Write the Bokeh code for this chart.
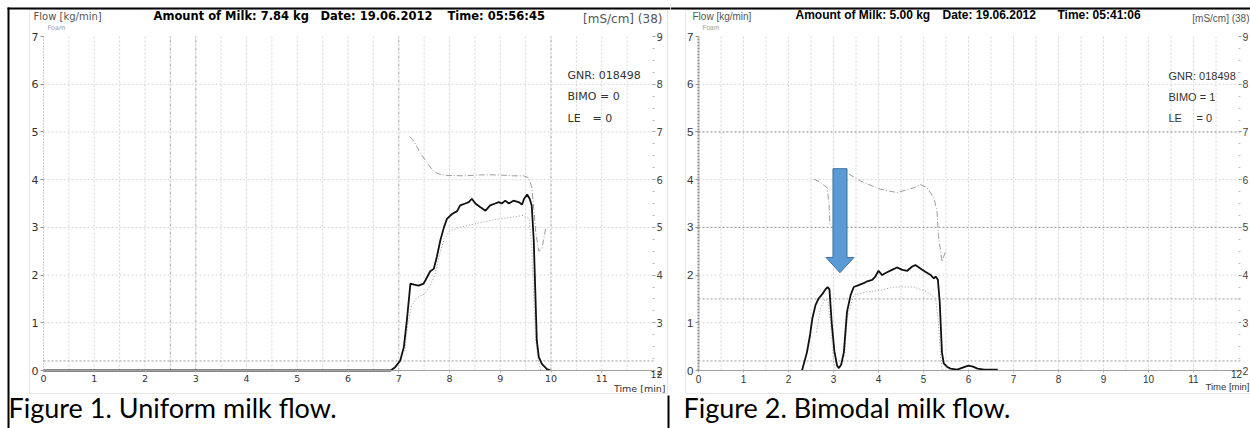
from bokeh.plotting import figure
from bokeh.models import Range1d, LinearAxis, FixedTicker, Label, BoxAnnotation
from bokeh.layouts import row
from bokeh.embed import file_html
from bokeh.resources import INLINE

NAN = float("nan")

# ---------------- shared axes / grid values ----------------
X_TICKS = list(range(12))
X_HALF_GRID = [i * 0.5 for i in range(1, 24)]
FLOW_TICKS = list(range(8))
FLOW_FAINT_GRID = [1, 2, 3, 4, 5, 6]
COND_TICKS = list(range(2, 10))
COND_MINOR = [2 + i * 0.25 for i in range(29) if i % 4]
T_MAX = 12
FLOW_MAX = 7
COND_OFFSET = 2

# ---------------- Figure 1: uniform milk flow ----------------
F1_T = [0.0, 6.84, 6.93, 7.03, 7.10, 7.16, 7.23, 7.30, 7.39, 7.49, 7.56, 7.62, 7.69, 7.75,
        7.82, 7.89, 7.95, 8.05, 8.15, 8.21, 8.31, 8.38, 8.44, 8.51, 8.61, 8.71, 8.80, 8.90,
        8.97, 9.03, 9.10, 9.17, 9.26, 9.36, 9.43, 9.47, 9.53, 9.58, 9.62, 9.66, 9.69, 9.72,
        9.76, 9.82, 9.92, 9.99]
F1_FLOW = [0.0, 0.0, 0.07, 0.21, 0.49, 1.05, 1.82, 1.80, 1.78, 1.82, 1.96, 2.08, 2.13, 2.38,
           2.73, 3.00, 3.18, 3.28, 3.34, 3.46, 3.50, 3.53, 3.60, 3.50, 3.42, 3.35, 3.46, 3.50,
           3.53, 3.50, 3.56, 3.50, 3.56, 3.53, 3.48, 3.60, 3.69, 3.60, 3.46, 2.73, 1.68, 0.63,
           0.28, 0.14, 0.03, 0.0]
F1_LOW_T = [7.12, 7.18, 7.25, 7.35, 7.50, 7.62, 7.72, 7.82, 7.90, 8.00, 8.20, 8.60, 8.95,
            9.15, 9.45, 9.57, 9.62, 9.66, 9.70, 9.75, 9.80]
F1_LOW = [0.40, 1.00, 1.35, 1.52, 1.60, 1.78, 2.03, 2.50, 2.76, 2.92, 3.00, 3.10, 3.17,
          3.20, 3.25, 3.18, 2.60, 1.50, 0.60, 0.20, 0.00]
F1_COND_T = [7.22, 7.30, 7.43, 7.56, 7.69, 7.79, 7.95, 8.28, 8.61, 8.94, 9.26, 9.46, 9.56,
             9.62, 9.66, 9.70, 9.76, 9.82, 9.90]
F1_COND = [6.90, 6.80, 6.55, 6.35, 6.17, 6.12, 6.09, 6.08, 6.10, 6.10, 6.08, 6.08, 6.04,
           5.85, 5.40, 4.90, 4.50, 4.55, 5.00]
F1_DARK_VGRID = [2.5, 3, 7, 10]
F1_DARK_HGRID = [0.2]
F1_TITLE = ["Amount of Milk: 7.84 kg", "Date: 19.06.2012", "Time: 05:56:45"]
F1_INFO = ["GNR: 018498", "BIMO = 0", "LE", "= 0"]
F1_CAPTION = "Figure 1. Uniform milk flow."

# ---------------- Figure 2: bimodal milk flow ----------------
F2_T = [2.30, 2.41, 2.48, 2.53, 2.60, 2.67, 2.75, 2.82, 2.87, 2.91, 2.96, 3.02, 3.08, 3.12,
        3.17, 3.23, 3.30, 3.38, 3.45, 3.56, 3.67, 3.75, 3.86, 3.93, 4.00, 4.08, 4.19, 4.30,
        4.41, 4.53, 4.64, 4.75, 4.82, 4.93, 5.04, 5.16, 5.23, 5.27, 5.32, 5.36, 5.41, 5.45,
        5.52, 5.60, 5.75, 5.90, 6.00, 6.10, 6.20, 6.35, 6.65]
F2_FLOW = [0.00, 0.38, 0.75, 1.09, 1.37, 1.51, 1.60, 1.70, 1.75, 1.70, 1.00, 0.40, 0.10, 0.05,
           0.12, 0.38, 1.23, 1.58, 1.75, 1.79, 1.83, 1.87, 1.90, 1.97, 2.09, 2.00, 2.06, 2.11,
           2.16, 2.11, 2.09, 2.18, 2.21, 2.14, 2.07, 2.00, 1.93, 1.97, 1.90, 1.44, 0.38, 0.15,
           0.08, 0.04, 0.02, 0.07, 0.10, 0.08, 0.04, 0.02, 0.02]
F2_LOW_T = [2.62, 2.71, 2.82, 2.88, 2.95, 3.00, 3.05, 3.15, 3.25, 3.30, 3.45, 3.75, 4.04,
            4.34, 4.79, 5.08, 5.27, 5.33, 5.38, 5.42]
F2_LOW = [0.80, 1.30, 1.50, 1.45, 0.80, 0.20, 0.00, NAN, 0.30, 1.09, 1.58, 1.65, 1.68,
          1.75, 1.75, 1.65, 1.51, 1.00, 0.30, 0.00]
F2_COND_T = [2.56, 2.70, 2.86, 2.90, 2.92, 2.93, 3.34, 3.60, 4.04, 4.41, 4.79, 4.93, 5.08,
             5.23, 5.30, 5.33, 5.41, 5.49]
F2_COND = [6.01, 5.95, 5.83, 5.50, 5.06, NAN, 6.12, 5.97, 5.80, 5.73, 5.83, 5.90, 5.83,
           5.62, 5.34, 4.85, 4.28, 4.50]
F2_DARK_HGRID = [0.2, 1.5, 3, 5]
F2_TITLE = ["Amount of Milk: 5.00 kg", "Date: 19.06.2012", "Time: 05:41:06"]
F2_INFO = ["GNR: 018498", "BIMO = 1", "LE", "= 0"]
F2_CAPTION = "Figure 2. Bimodal milk flow."

# block arrow annotation (data units of figure 2)
ARROW_T = 3.144
ARROW_SHAFT_HALF = 0.156
ARROW_HEAD_HALF = 0.311
ARROW_TOP = 4.23
ARROW_NECK = 2.37
ARROW_TIP = 2.05

# ---------------- page geometry (pixels) ----------------
H = 428
W1, W2 = 670, 580
ZERO_Y = 370          # pixel row of flow = 0
PX_PER_FLOW = 47.71   # pixels per kg/min
CAP_FONT = "Lato"


def label(p, x, y, text, font, size, color="#333333", align="left",
          baseline="middle", style="normal"):
    p.add_layout(Label(x=x, y=y, x_units="canvas", y_units="canvas", text=text,
                       text_font=font, text_font_size=f"{size}px", text_color=color,
                       text_align=align, text_baseline=baseline, text_font_style=style))


def box(p, l, r, t, b, fill=None, line=None):
    p.add_layout(BoxAnnotation(left=l, right=r, top=t, bottom=b,
                               left_units="canvas", right_units="canvas",
                               bottom_units="canvas", top_units="canvas",
                               fill_color=fill, fill_alpha=1.0 if fill else 0.0,
                               line_color=line, line_width=1, level="overlay"))


def base(width, x0_px, px_per_min, font, size, yaxis_color, yaxis_dash, yaxis_width,
         dark_h, dark_v):
    x_start = -x0_px / px_per_min
    x_end = (width - x0_px) / px_per_min
    y_start = -(H - ZERO_Y) / PX_PER_FLOW
    y_end = ZERO_Y / PX_PER_FLOW
    p = figure(width=width, height=H, x_range=Range1d(x_start, x_end),
               y_range=Range1d(y_start, y_end), output_backend="svg",
               toolbar_location=None, min_border=0)
    p.outline_line_color = None
    p.background_fill_color = "white"
    p.border_fill_color = "white"
    p.xgrid.visible = False
    p.ygrid.visible = False
    p.extra_y_ranges = {"cond": Range1d(y_start + COND_OFFSET, y_end + COND_OFFSET)}

    # grid lines (drawn through the data scales)
    nv = len(X_HALF_GRID)
    p.segment(X_HALF_GRID, [0] * nv, X_HALF_GRID, [FLOW_MAX] * nv,
              line_color="#d4d4d4", line_dash="2 2", line_width=1)
    nh = len(FLOW_FAINT_GRID)
    p.segment([0] * nh, FLOW_FAINT_GRID, [T_MAX] * nh, FLOW_FAINT_GRID,
              line_color="#d6d6d6", line_dash="2 2", line_width=1)
    if dark_v:
        nd = len(dark_v)
        p.segment(dark_v, [0] * nd, dark_v, [FLOW_MAX] * nd,
                  line_color="#b4b4b4", line_dash="3 2 1 2", line_width=1)
    nd = len(dark_h)
    p.segment([0] * nd, dark_h, [T_MAX + 0.05] * nd, dark_h,
              line_color="#9a9a9a", line_dash="2 2", line_width=1)

    xa = p.xaxis[0]
    xa.fixed_location = 0
    xa.bounds = (0, T_MAX)
    xa.ticker = FixedTicker(ticks=X_TICKS)
    xa.axis_line_color = "#a0a0a0"
    xa.major_tick_line_color = "#b0b0b0"
    xa.major_tick_out = 2
    xa.major_tick_in = 0
    xa.minor_tick_line_color = None
    xa.major_label_text_font = font
    xa.major_label_text_font_size = f"{size - 0.5}px"
    xa.major_label_text_color = "#333333"
    xa.major_label_standoff = 2

    ya = p.yaxis[0]
    ya.fixed_location = 0
    ya.bounds = (0, FLOW_MAX)
    ya.ticker = FixedTicker(ticks=FLOW_TICKS)
    ya.axis_line_color = yaxis_color
    ya.axis_line_dash = yaxis_dash
    ya.axis_line_width = yaxis_width
    ya.major_tick_line_color = "#909090"
    ya.major_tick_out = 3
    ya.major_tick_in = 0
    ya.minor_tick_line_color = None
    ya.major_label_text_font = font
    ya.major_label_text_font_size = f"{size + 1}px"
    ya.major_label_text_color = "#333333"
    ya.major_label_standoff = 2

    ra = LinearAxis(y_range_name="cond", fixed_location=T_MAX,
                    bounds=(COND_TICKS[0], COND_TICKS[-1]),
                    ticker=FixedTicker(ticks=COND_TICKS, minor_ticks=COND_MINOR))
    ra.axis_line_color = None
    ra.major_tick_line_color = "#a0a0a0"
    ra.major_tick_out = 3
    ra.major_tick_in = 0
    ra.minor_tick_line_color = "#b8b8b8"
    ra.minor_tick_out = 2
    ra.minor_tick_in = 0
    ra.major_label_text_font = font
    ra.major_label_text_font_size = f"{size}px"
    ra.major_label_text_color = "#444444"
    ra.major_label_standoff = 1
    p.add_layout(ra, "right")
    return p


# ---------------- build figure 1 ----------------
F1 = "DejaVu Sans"
p1 = base(W1, 43, 50.75, F1, 10, "#9a9a9a", "1 2", 1, F1_DARK_HGRID, F1_DARK_VGRID)
p1.line(F1_LOW_T, F1_LOW, line_color="#9c9c9c", line_width=1, line_dash="1 2")
p1.line(F1_COND_T, F1_COND, y_range_name="cond", line_color="#9c9c9c", line_width=1,
        line_dash="6 2 1 2")
p1.line(F1_T, F1_FLOW, line_color="#111111", line_width=1.8)

box(p1, 29, 667, 9, 393, line="#b0b0b0")
box(p1, 7, 670, 7, 9, fill="black")
box(p1, 7, 9, 7, 428, fill="black")
box(p1, 667, 669, 395, 428, fill="black")

label(p1, 33, 16, "Flow [kg/min]", F1, 10, "#555555")
label(p1, 47, 27, "Foam", F1, 6.5, "#a0a0a0")
for x, s in zip([153, 320, 447], F1_TITLE):
    label(p1, x, 15, s, F1, 11.5, "#000000", style="bold")
label(p1, 662, 18, "[mS/cm] (38)", F1, 12, "#555555", align="right")
label(p1, 567, 75, F1_INFO[0], F1, 11, "#333333")
label(p1, 567, 96, F1_INFO[1], F1, 11, "#333333")
label(p1, 567, 118, F1_INFO[2], F1, 11, "#333333")
label(p1, 592, 118, F1_INFO[3], F1, 11, "#333333")
label(p1, 656, 374, "12", F1, 9.5, "#333333", align="center")
label(p1, 665, 388, "Time [min]", F1, 9.5, "#333333", align="right")
label(p1, 8, 407, F1_CAPTION, CAP_FONT, 27, "#000000", baseline="middle")

# ---------------- build figure 2 ----------------
F2 = "Liberation Sans"
p2 = base(W2, 28, 45.0, F2, 10.5, "#8c8c8c", "2 1", 2, F2_DARK_HGRID, None)
p2.line(F2_LOW_T, F2_LOW, line_color="#9c9c9c", line_width=1, line_dash="1 2")
p2.line(F2_COND_T, F2_COND, y_range_name="cond", line_color="#9c9c9c", line_width=1,
        line_dash="6 2 1 2")
p2.line(F2_T, F2_FLOW, line_color="#111111", line_width=1.8)

ax_l = ARROW_T - ARROW_SHAFT_HALF
ax_r = ARROW_T + ARROW_SHAFT_HALF
p2.patch([ax_l, ax_r, ax_r, ARROW_T + ARROW_HEAD_HALF, ARROW_T, ARROW_T - ARROW_HEAD_HALF, ax_l],
         [ARROW_TOP, ARROW_TOP, ARROW_NECK, ARROW_NECK, ARROW_TIP, ARROW_NECK, ARROW_NECK],
         fill_color="#5b9bd5", line_color="#41719c", line_width=1)

box(p2, 15, 600, 9, 393, line="#b0b0b0")
box(p2, 0, 580, 7, 9, fill="black")

label(p2, 22, 16, "Flow [kg/min]", F2, 10, "#555555")
label(p2, 32, 27, "Foam", F2, 6.5, "#a0a0a0")
for x, s in zip([125, 272, 387], F2_TITLE):
    label(p2, x, 14, s, F2, 12, "#000000", style="bold")
label(p2, 579, 18, "[mS/cm] (38)", F2, 10, "#555555", align="right")
label(p2, 498, 75, F2_INFO[0], F2, 11, "#333333")
label(p2, 498, 96, F2_INFO[1], F2, 11, "#333333")
label(p2, 498, 117, F2_INFO[2], F2, 11, "#333333")
label(p2, 526, 117, F2_INFO[3], F2, 11, "#333333")
label(p2, 566, 373, "12", F2, 10, "#333333", align="center")
label(p2, 579, 386, "Time [min]", F2, 9.5, "#333333", align="right")
label(p2, 13, 407, F2_CAPTION, CAP_FONT, 27, "#000000", baseline="middle")

layout = row(p1, p2)
open("out.html", "w").write(file_html(layout, INLINE))
